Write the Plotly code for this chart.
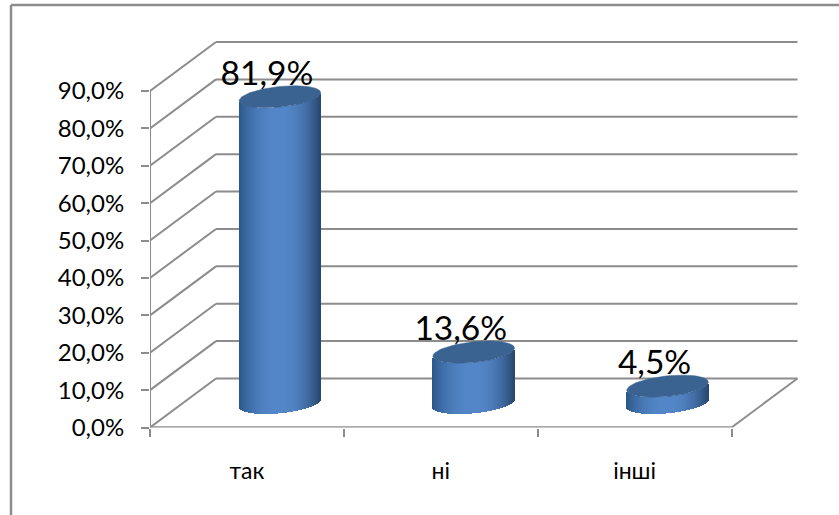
import numpy as np
import plotly.graph_objects as go

categories = ["так", "ні", "інші"]
values = [81.9, 13.6, 4.5]
y_ticks = [0, 10, 20, 30, 40, 50, 60, 70, 80, 90]
y_tick_labels = ["0,0%", "10,0%", "20,0%", "30,0%", "40,0%", "50,0%", "60,0%", "70,0%", "80,0%", "90,0%"]
x_edges = [0, 1, 2, 3]

W, H = 839, 515
L, R, T, B = 150, 798, 41, 427.5
PX_X = (731.5 - 150) / 3
PX_Y = (427.5 - 91) / 90
DX = 66 / PX_X
DY = 49 / PX_Y
GRID = "#8c8c8c"
FONT = "Lato, 'Open Sans', sans-serif"

fig = go.Figure()


def shade(t):
    # t in [-1, 1] across the cylinder
    u = abs(t) ** 2.2
    c0 = np.array([84, 135, 201])
    c1 = np.array([44, 86, 136]) if t < 0 else np.array([40, 72, 112])
    c = c0 + (c1 - c0) * u
    return "rgb(%d,%d,%d)" % tuple(c)


HALF = 40.8 / PX_X
EB = 10.3 / PX_Y
EK = 4.0 / PX_Y
N = 82
xs, bases, heights, cols = [], [], [], []
lab_x, lab_y, lab_t = [], [], []
for i, v in enumerate(values):
    cx = i + 0.5 + DX / 2
    cy = DY / 2
    for t in (np.arange(N) + 0.5) / N * 2 - 1:
        s = np.sqrt(1 - t * t)
        xs.append(cx + HALF * t)
        bot = cy + EK * t - EB * s
        bases.append(bot)
        heights.append(v)
        cols.append(shade(t))
    th = np.linspace(0, 2 * np.pi, 121)
    ex = cx + HALF * np.cos(th)
    ey = cy + v + EK * np.cos(th) + EB * np.sin(th)
    fig.add_trace(go.Scatter(x=ex, y=ey, mode="lines", fill="toself", fillcolor="#3b6391",
                             line=dict(color="#3b6391", width=0.5), hoverinfo="skip",
                             showlegend=False, cliponaxis=False))
    lab_x.append(cx - 13 / PX_X)
    lab_y.append(v + cy + 20.5 / PX_Y)
    lab_t.append(f"{v:.1f}%".replace(".", ","))

fig.add_trace(go.Bar(x=xs, y=heights, base=bases, width=2 * HALF / N * 1.02,
                     marker=dict(color=cols, line=dict(width=0)),
                     hoverinfo="skip", showlegend=False, cliponaxis=False))
fig.add_trace(go.Scatter(x=lab_x, y=lab_y, text=lab_t, mode="text", textposition="middle center",
                         textfont=dict(size=33.5, color="#000000", family=FONT),
                         hoverinfo="skip", showlegend=False, cliponaxis=False))

shapes = []


def seg(x0, y0, x1, y1, w=2):
    shapes.append(dict(type="line", xref="x", yref="y", x0=x0, y0=y0, x1=x1, y1=y1,
                       line=dict(color=GRID, width=w), layer="below"))


for v in y_ticks:
    seg(0, v, DX, v + DY)
    seg(DX, v + DY, x_edges[-1] + DX, v + DY)
seg(0, 0, 0, y_ticks[-1])
seg(0, 0, x_edges[-1], 0, 2.5)
seg(x_edges[-1], 0, x_edges[-1] + DX, DY)

# chart frame
for x0, y0, x1, y1 in [(11 / W, 1 - 5 / H, 1, 1 - 5 / H), (11 / W, 1 - 5 / H, 11 / W, 0)]:
    shapes.append(dict(type="line", xref="paper", yref="paper", x0=x0, y0=y0, x1=x1, y1=y1,
                       line=dict(color=GRID, width=2.5), layer="below"))

fig.update_layout(
    width=W, height=H, autosize=False,
    margin=dict(l=0, r=0, t=0, b=0, pad=0),
    paper_bgcolor="white", plot_bgcolor="white",
    shapes=shapes, bargap=0, barmode="overlay",
    font=dict(family=FONT, color="#000000"),
    xaxis=dict(domain=[L / W, R / W], range=[0, (R - L) / PX_X], showgrid=False, zeroline=False,
               automargin=False,
               showline=False, tickmode="array", tickvals=[i + 0.5 for i in range(3)], ticktext=categories,
               ticks="outside", ticklen=23, tickwidth=1, tickcolor="rgba(0,0,0,0)",
               tickfont=dict(size=23),
               minor=dict(tickmode="array", tickvals=x_edges, ticks="outside", ticklen=8, tickwidth=2,
                          tickcolor=GRID, showgrid=False)),
    yaxis=dict(domain=[1 - B / H, 1 - T / H], range=[0, (B - T) / PX_Y], showgrid=False, zeroline=False,
               automargin=False,
               showline=False, tickmode="array", tickvals=y_ticks, ticktext=y_tick_labels,
               ticks="outside", ticklen=8, tickwidth=2, tickcolor=GRID, tickfont=dict(size=24),
               ticklabelstandoff=12),
)
fig.write_html("out.html", post_script="document.body.style.margin='0';", config=dict(displayModeBar=False))
